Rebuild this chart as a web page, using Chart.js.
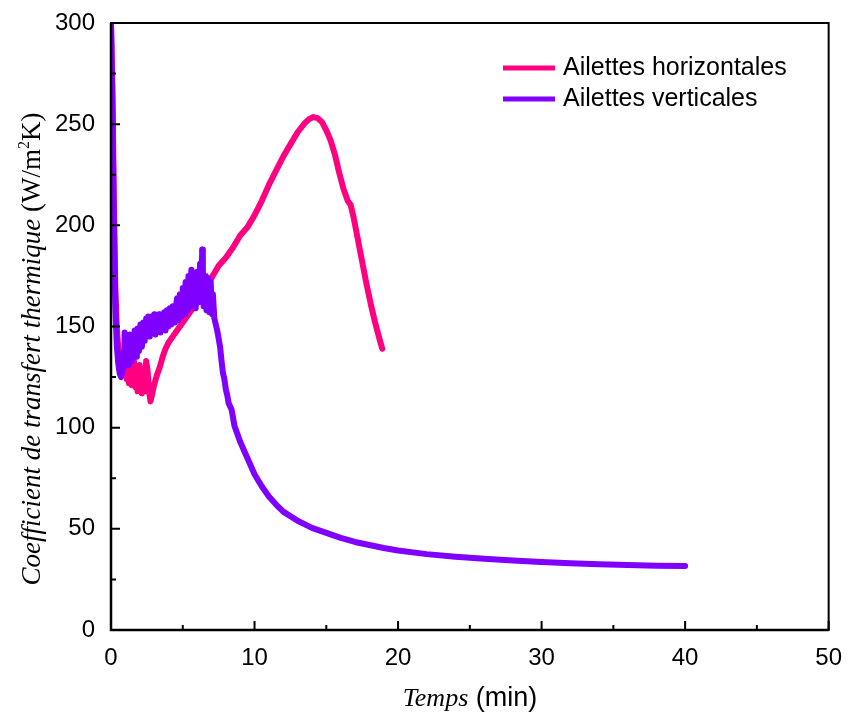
<!DOCTYPE html>
<html>
<head>
<meta charset="utf-8">
<script src="https://cdn.jsdelivr.net/npm/chart.js@4"></script>
<style>
  html, body { margin: 0; padding: 0; background: #fff; }
  #wrap { width: 848px; height: 718px; }
</style>
</head>
<body>
<div id="wrap"><canvas id="chart" width="848" height="718"></canvas></div>
<script>
// series: Ailettes horizontales
const horizTime = [0, 0.1, 0.2, 0.3, 0.4, 0.5, 0.6, 0.7,
    0.80, 0.85, 0.90, 0.95, 1.00, 1.05, 1.10, 1.15, 1.20, 1.25, 1.30, 1.35, 1.40, 1.45, 1.50, 1.55,
    1.60, 1.65, 1.70, 1.75, 1.80, 1.85, 1.90, 1.95, 2.00, 2.05, 2.10, 2.15, 2.20, 2.25, 2.30, 2.35,
    2.40, 2.45, 2.55, 2.65, 2.75, 2.85, 3.0, 3.2, 3.4, 3.6, 3.8, 4.0, 4.3, 4.6, 5.0, 5.5,
    6.0, 6.5, 7.0, 7.5, 8.0, 8.5, 9.0, 9.5, 10, 10.5, 11, 11.5, 12, 12.5, 13, 13.5, 13.8, 14.1, 14.4, 14.7,
    15.0, 15.3, 15.6, 15.9, 16.2, 16.5, 16.7, 16.9, 17.2, 17.5, 17.8, 18.1, 18.4, 18.7, 18.9];
const horizCoef = [300, 268, 212, 170, 150, 140, 136, 134,
    134, 129, 135, 131, 126, 133, 124, 130, 134, 122, 127, 131, 124, 121, 130, 126,
    133, 123, 120, 129, 125, 118, 122, 127, 131, 124, 119, 117, 124, 128, 121, 118,
    127, 133, 128, 118, 113, 116, 121, 126, 130, 135, 139, 142, 145, 148, 152, 157,
    162, 167, 174, 180, 184, 189, 195, 199, 205, 212, 220, 227, 234, 240, 246, 250.5, 252.5, 253.5, 253, 251,
    247, 242, 235, 226, 218, 212, 210, 204, 193, 182, 171, 161, 152, 144, 139];

// series: Ailettes verticales
const vertTime = [0, 0.1, 0.2, 0.3, 0.4, 0.5, 0.6, 0.7,
    0.80, 0.85, 0.90, 0.95, 1.00, 1.05, 1.10, 1.15, 1.20, 1.25, 1.30, 1.35, 1.40, 1.45, 1.50, 1.55,
    1.60, 1.65, 1.70, 1.75, 1.80, 1.85, 1.90, 1.95, 2.00, 2.05, 2.10, 2.15, 2.20, 2.25, 2.30, 2.35,
    2.40, 2.45, 2.50, 2.55, 2.60, 2.65, 2.70, 2.75, 2.80, 2.85, 2.90, 2.95, 3.00, 3.05, 3.10, 3.15,
    3.20, 3.25, 3.30, 3.35, 3.40, 3.45, 3.50, 3.55, 3.60, 3.65, 3.70, 3.75, 3.80, 3.85, 3.90, 3.95,
    4.00, 4.05, 4.10, 4.15, 4.20, 4.25, 4.30, 4.35, 4.40, 4.45, 4.50, 4.55, 4.60, 4.65, 4.70, 4.75,
    4.80, 4.85, 4.90, 4.95, 5.00, 5.05, 5.10, 5.15, 5.20, 5.25, 5.30, 5.35, 5.40, 5.45, 5.50, 5.55,
    5.60, 5.65, 5.70, 5.75, 5.80, 5.85, 5.90, 5.95, 6.00, 6.05, 6.10, 6.15, 6.20, 6.25, 6.30, 6.35,
    6.40, 6.45, 6.50, 6.55, 6.60, 6.65, 6.70, 6.75, 6.80, 6.85, 6.90, 6.95, 7.00, 7.05, 7.10, 7.15,
    7.20, 7.4, 7.6, 7.7, 7.8, 7.9, 8.0, 8.1, 8.2, 8.4, 8.6, 8.8, 9.0, 9.5, 10, 10.5, 11, 11.5, 12, 13, 14,
    15, 16, 17, 18, 19, 20, 22, 24, 26, 28, 30, 32, 34, 36, 38, 40];
const vertCoef = [300, 258, 200, 160, 141, 132, 127, 125,
    128, 137, 130, 147, 141, 134, 145, 139, 131, 143, 146, 137, 133, 140, 145, 136,
    141, 148, 139, 135, 144, 149, 143, 138, 146, 151, 147, 140, 144, 152, 148, 143,
    150, 154, 146, 149, 155, 151, 145, 150, 155, 152, 147, 154, 156, 150, 146, 153,
    155, 149, 152, 156, 151, 147, 153, 155, 150, 154, 157, 152, 148, 155, 158, 153,
    150, 156, 159, 154, 151, 157, 160, 155, 152, 158, 154, 161, 164, 157, 153, 160,
    166, 161, 155, 163, 169, 159, 156, 165, 172, 163, 158, 168, 175, 166, 160, 171,
    178, 168, 161, 170, 175, 166, 159, 172, 177, 169, 162, 174, 181, 170, 163, 188,
    171, 160, 168, 175, 163, 158, 170, 174, 162, 157, 168, 172, 160, 156, 166, 160,
    154, 148, 140, 133, 127, 124, 119, 116, 112, 109, 101, 97, 93, 85, 77, 71, 66, 62, 58.5, 54, 50.5,
    48, 45.5, 43.5, 42, 40.5, 39.3, 37.5, 36.2, 35.2, 34.3, 33.6, 33, 32.5, 32.1, 31.8, 31.6];

const seriesNames = ["Ailettes horizontales", "Ailettes verticales"];
const seriesColors = ["#ff0080", "#8000ff"];

// axis ticks
const xMajor = [0, 10, 20, 30, 40, 50];
const xMinor = [5, 15, 25, 35, 45];
const yMajor = [0, 50, 100, 150, 200, 250, 300];
const yMinor = [25, 75, 125, 175, 225, 275];

const toPoints = (xs, ys) => xs.map((x, i) => ({x: x, y: ys[i]}));

// frame, inward ticks, titles and legend
const decorations = {
    id: "decorations",
    afterDraw(chart) {
        const ctx = chart.ctx;
        const a = chart.chartArea;
        const sx = chart.scales.x;
        const sy = chart.scales.y;
        ctx.save();
        ctx.strokeStyle = "#000";
        ctx.lineWidth = 2;
        ctx.strokeRect(a.left, a.top, a.right - a.left, a.bottom - a.top);
        ctx.lineWidth = 2.5;
        ctx.beginPath();
        ctx.moveTo(a.left, a.top);
        ctx.lineTo(a.left, a.bottom);
        ctx.lineTo(a.right, a.bottom);
        ctx.stroke();

        ctx.lineWidth = 2;
        ctx.beginPath();
        xMajor.forEach(v => { const p = sx.getPixelForValue(v); ctx.moveTo(p, a.bottom); ctx.lineTo(p, a.bottom - 9); });
        xMinor.forEach(v => { const p = sx.getPixelForValue(v); ctx.moveTo(p, a.bottom); ctx.lineTo(p, a.bottom - 5); });
        yMajor.forEach(v => { const p = sy.getPixelForValue(v); ctx.moveTo(a.left, p); ctx.lineTo(a.left + 9, p); });
        yMinor.forEach(v => { const p = sy.getPixelForValue(v); ctx.moveTo(a.left, p); ctx.lineTo(a.left + 5, p); });
        ctx.stroke();

        // x title: Temps (min)
        ctx.fillStyle = "#000";
        ctx.textBaseline = "alphabetic";
        const f1 = "italic 26px 'Liberation Serif'";
        const f2 = "27px 'Liberation Sans'";
        ctx.font = f1;
        const w1 = ctx.measureText("Temps").width;
        ctx.font = f2;
        const w2 = ctx.measureText(" (min)").width;
        let tx = 470 - (w1 + w2) / 2;
        ctx.font = f1;
        ctx.fillText("Temps", tx, 706);
        ctx.font = f2;
        ctx.fillText(" (min)", tx + w1, 706);

        // y title
        ctx.save();
        ctx.translate(40, 349);
        ctx.rotate(-Math.PI / 2);
        const g1 = "italic 27px 'Liberation Serif'";
        const g2 = "27px 'Liberation Serif'";
        const g3 = "16px 'Liberation Serif'";
        const parts = [
            [g1, "Coefficient de transfert thermique", 0],
            [g2, " (W/m", 0],
            [g3, "2", -11],
            [g2, "K)", 0]
        ];
        let total = 0;
        parts.forEach(p => { ctx.font = p[0]; total += ctx.measureText(p[1]).width; });
        let px = -total / 2;
        parts.forEach(p => {
            ctx.font = p[0];
            ctx.fillText(p[1], px, p[2]);
            px += ctx.measureText(p[1]).width;
        });
        ctx.restore();

        // legend
        ctx.font = "25px 'Liberation Sans'";
        ctx.textBaseline = "middle";
        seriesNames.forEach((name, i) => {
            const ly = 68 + i * 31;
            ctx.strokeStyle = seriesColors[i];
            ctx.lineWidth = 5;
            ctx.beginPath();
            ctx.moveTo(503, ly);
            ctx.lineTo(555, ly);
            ctx.stroke();
            ctx.fillStyle = "#000";
            ctx.fillText(name, 563, ly);
        });
        ctx.restore();
    }
};

new Chart(document.getElementById("chart"), {
    type: "scatter",
    data: {
        datasets: [
            {
                label: seriesNames[0],
                data: toPoints(horizTime, horizCoef),
                showLine: true,
                borderColor: seriesColors[0],
                backgroundColor: seriesColors[0],
                borderWidth: 6,
                borderJoinStyle: "round",
                borderCapStyle: "round",
                pointRadius: 0,
                order: 1,
            },
            {
                label: seriesNames[1],
                data: toPoints(vertTime, vertCoef),
                showLine: true,
                borderColor: seriesColors[1],
                backgroundColor: seriesColors[1],
                borderWidth: 6,
                borderJoinStyle: "round",
                borderCapStyle: "round",
                pointRadius: 0,
                order: 0,
            },
        ],
    },
    options: {
        responsive: false,
        animation: false,
        layout: { padding: { left: 0, top: 23, right: 18, bottom: 0 } },
        plugins: { legend: { display: false }, tooltip: { enabled: false } },
        scales: {
            x: {
                type: "linear",
                min: 0,
                max: 50,
                grid: { display: false },
                border: { display: false },
                ticks: {
                    stepSize: 10,
                    color: "#000",
                    padding: 6,
                    font: { family: "'Liberation Sans'", size: 24 },
                },
                afterFit(scale) { scale.height = 88; },
            },
            y: {
                min: 0,
                max: 300,
                grid: { display: false },
                border: { display: false },
                ticks: {
                    stepSize: 50,
                    color: "#000",
                    padding: 8,
                    font: { family: "'Liberation Sans'", size: 24 },
                },
                afterFit(scale) { scale.width = 111; },
            },
        },
    },
    plugins: [decorations],
});
</script>
</body>
</html>
